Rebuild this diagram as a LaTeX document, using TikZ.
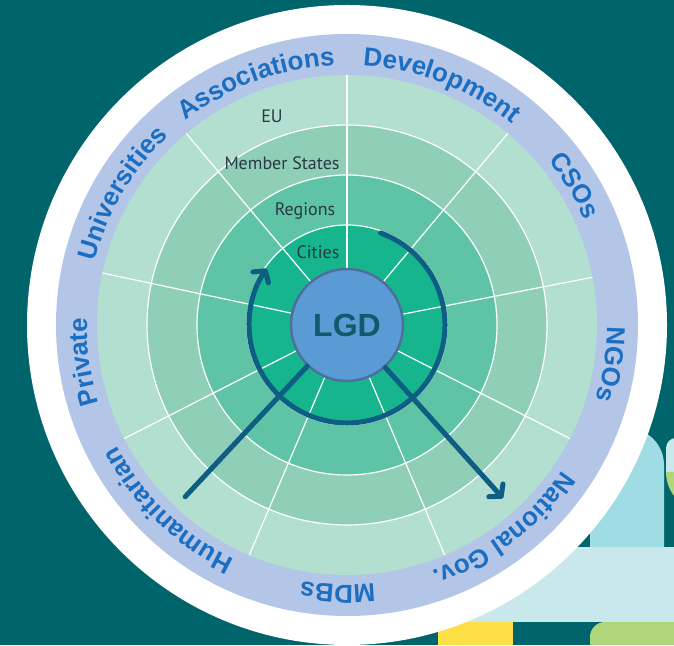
\documentclass[tikz,border=0pt]{standalone}
\usepackage{fontspec}
\setmainfont{Liberation Sans}
\newfontfamily\ptsans{PT Sans}
\usetikzlibrary{arrows.meta,decorations.text,calc}
\definecolor{bgteal}{HTML}{00646B}
\definecolor{lav}{HTML}{B4C6E7}
\definecolor{ringEU}{HTML}{B2DFD0}
\definecolor{ringMS}{HTML}{8FCFB8}
\definecolor{ringRG}{HTML}{5FC4A6}
\definecolor{ringCT}{HTML}{16B58E}
\definecolor{lgdblue}{HTML}{5B9BD5}
\definecolor{lgdborder}{HTML}{4D6F9C}
\definecolor{lgdtext}{HTML}{0F5B6C}
\definecolor{arrowc}{HTML}{0E5D83}
\definecolor{outerblue}{HTML}{1B6EC2}
\definecolor{ringtext}{HTML}{2A3942}
\definecolor{lightblue}{HTML}{A0DCE4}
\definecolor{palecyan}{HTML}{C8E8EB}
\definecolor{yellowx}{HTML}{FDE047}
\definecolor{greenx}{HTML}{B0D67B}
\newcommand\ofont{\fontsize{26pt}{26pt}\selectfont\bfseries}
\tikzset{
  spoke/.style={draw=white, line width=1.2pt},
  ringlbl/.style={font=\ptsans\fontsize{18pt}{18pt}\selectfont, text=ringtext, inner sep=0pt},
  flow/.style={draw=arrowc, line width=5pt, line cap=round},
  barb/.style={-{Straight Barb[length=8pt,width=19pt,round]}},
  outerlbl/.style={decorate, decoration={text along path, text={|\ofont|#1}, text align=center, text color=outerblue}}
}
\begin{document}
\begin{tikzpicture}[x=1pt,y=1pt]
\useasboundingbox (0,0) rectangle (674,645);
\clip (0,0) rectangle (674,645);
\fill[bgteal] (0,0) rectangle (674,645);
% decorations bottom right
\fill[lightblue] (590,98) -- (590,180) arc[start angle=180,end angle=0,radius=37pt] -- (664,98) -- cycle;
\fill[palecyan] (430,23) rectangle (674,98);
\fill[yellowx] (438,0) rectangle (513,23);
\fill[greenx] (590,0) -- (590,8) arc[start angle=180,end angle=90,radius=15pt] -- (674,23) -- (674,0) -- cycle;
\fill[palecyan] (666,173) -- (666,197) arc[start angle=180,end angle=90,radius=10pt] -- (674,207) -- (674,173) -- cycle;
\fill[greenx] (666,173) arc[start angle=180,end angle=270,radius=40pt] -- (706,173) -- cycle;
% wheel
\coordinate (C) at (347,320);
\fill[white] (C) circle[radius=320pt];
\fill[lav] (C) circle[radius=291pt];
\fill[ringEU] (C) circle[radius=250pt];
\fill[ringMS] (C) circle[radius=200pt];
\fill[ringRG] (C) circle[radius=150pt];
\fill[ringCT] (C) circle[radius=100pt];
\foreach \r in {100,150,200} \draw[spoke] (C) circle[radius=\r pt];
\foreach \a in {11,50,90,130,168,207,247,293,333}
  \draw[spoke] ($(C)+(\a:55pt)$) -- ($(C)+(\a:250pt)$);
% ring labels
\node[ringlbl] (eu) at (272,528.5) {EU};
\node[ringlbl] (ms) at (282,482) {Member States};
\node[ringlbl] (rg) at (305,434) {Regions};
\node[ringlbl] (ct) at (318,393) {Cities};
% outer labels
\path[outerlbl={Associations}] ($(C)+(140.5:260pt)$) arc[start angle=140.5, end angle=80.5, radius=260pt];
\path[outerlbl={Development}] ($(C)+(98.5:260pt)$) arc[start angle=98.5, end angle=38.5, radius=260pt];
\path[outerlbl={CSOs}] ($(C)+(61.5:260pt)$) arc[start angle=61.5, end angle=1.5, radius=260pt];
\path[outerlbl={NGOs}] ($(C)+(21.5:260pt)$) arc[start angle=21.5, end angle=-38.5, radius=260pt];
\path[outerlbl={National Gov.}] ($(C)+(-22.5:260pt)$) arc[start angle=-22.5, end angle=-82.5, radius=260pt];
\path[outerlbl={MDBs}] ($(C)+(-62:260pt)$) arc[start angle=-62, end angle=-122, radius=260pt];
\path[outerlbl={Humanitarian}] ($(C)+(-104:260pt)$) arc[start angle=-104, end angle=-164, radius=260pt];
\path[outerlbl={Private}] ($(C)+(218:260pt)$) arc[start angle=218, end angle=158, radius=260pt];
\path[outerlbl={Universities}] ($(C)+(179.6:260pt)$) arc[start angle=179.6, end angle=119.6, radius=260pt];
% centre
\node[circle, fill=lgdblue, draw=lgdborder, line width=2.5pt, minimum size=112pt, inner sep=0pt,
      font=\bfseries\fontsize{32pt}{32pt}\selectfont, text=lgdtext] (lgd) at (C) {LGD};
% arrows
\coordinate (arcstart) at ($(C)+(70:98pt)$);
\draw[flow, barb] (arcstart) arc[start angle=70, end angle=-215, radius=98pt];
\coordinate (lend) at ($(C)+(226.7:236pt)$);
\draw[flow] (lgd.226.7) -- (lend);
\coordinate (rend) at ($(C)+(-48:233pt)$);
\draw[flow, barb] (lgd.-48) -- (rend);
\end{tikzpicture}
\end{document}
